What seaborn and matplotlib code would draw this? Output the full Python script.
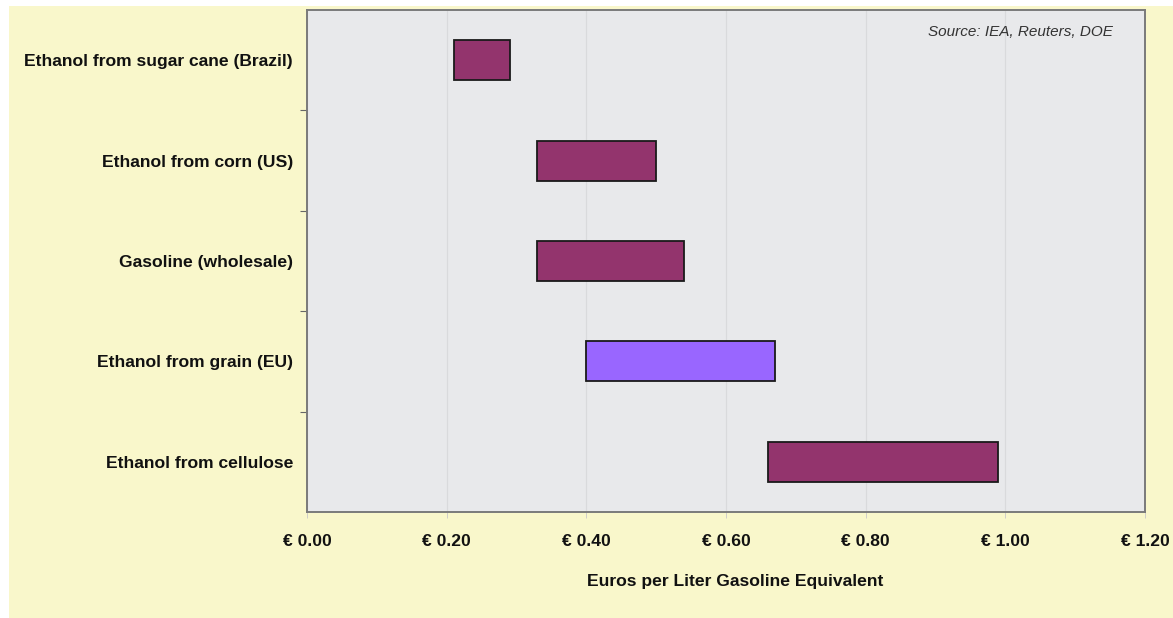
import matplotlib
matplotlib.use("Agg")
import matplotlib.pyplot as plt
import matplotlib.patches as mpatches
from matplotlib.ticker import FixedLocator, FuncFormatter
import seaborn as sns
import pandas as pd

# Production cost ranges, euros per liter gasoline equivalent
categories = [
    "Ethanol from sugar cane (Brazil)",
    "Ethanol from corn (US)",
    "Gasoline (wholesale)",
    "Ethanol from grain (EU)",
    "Ethanol from cellulose",
]
cost_low = [0.21, 0.33, 0.33, 0.40, 0.66]
cost_high = [0.29, 0.50, 0.54, 0.67, 0.99]
x_ticks = [0.0, 0.2, 0.4, 0.6, 0.8, 1.0, 1.2]

bar_colors = ["#93346D", "#93346D", "#93346D", "#9966FF", "#93346D"]
panel_bg = "#F9F7CB"
axes_bg = "#E8E9EB"

sns.set_theme(style="white")
plt.rcParams["font.family"] = ["Liberation Sans", "DejaVu Sans"]

df = pd.DataFrame({
    "category": categories,
    "low": cost_low,
    "span": [h - l for l, h in zip(cost_low, cost_high)],
})

fig = plt.figure(figsize=(11.73, 6.18), dpi=100, facecolor="white")
fig.patches.append(mpatches.Rectangle((9 / 1173, 0), 1 - 9 / 1173, 1 - 5 / 618 - 1 / 618,
                                      transform=fig.transFigure, facecolor=panel_bg,
                                      edgecolor="none", zorder=-10))
ax = fig.add_axes([307 / 1173, 1 - 512 / 618, (1145 - 307) / 1173, (512 - 10) / 618])
ax.set_facecolor(axes_bg)

sns.barplot(data=df, x="span", y="category", hue="category", palette=bar_colors,
            saturation=1, legend=False, width=0.4, orient="h", ax=ax,
            edgecolor="#1a1a1a", linewidth=1.3, zorder=3)
# shift each bar so it starts at the low end of its range
for patch, lo in zip(ax.patches, df["low"]):
    patch.set_x(lo)

ax.set_xlim(0, 1.2)
ax.set_ylim(len(categories) - 0.5, -0.5)
ax.xaxis.set_major_locator(FixedLocator(x_ticks))
ax.xaxis.set_major_formatter(FuncFormatter(lambda v, _: f"€ {v:.2f}"))
ax.grid(axis="x", color="#D9DADC", linewidth=0.9, zorder=0)
ax.set_axisbelow(True)

ax.set_yticks(range(len(categories)))
ax.set_yticklabels(categories)
ax.yaxis.set_minor_locator(FixedLocator([i + 0.5 for i in range(len(categories) - 1)]))
ax.tick_params(axis="y", which="major", length=0, pad=10, labelsize=12.6, labelcolor="#111111")
ax.tick_params(axis="y", which="minor", left=True, length=5, width=0.8, color="#666666")
ax.tick_params(axis="x", which="major", bottom=True, length=4, width=0.6, color="#C8C8C8",
               pad=12, labelsize=12.6, labelcolor="#111111")
for lbl in ax.get_xticklabels() + ax.get_yticklabels():
    lbl.set_fontweight("bold")

ax.set_xlabel("Euros per Liter Gasoline Equivalent", fontsize=12.6, fontweight="bold",
              color="#111111")
ax.set_ylabel("")
ax.xaxis.set_label_coords(0.511, -0.124)

for spine in ax.spines.values():
    spine.set_visible(True)
    spine.set_color("#7A7A7A")
    spine.set_linewidth(1.4)

ax.text(0.962, 0.956, "Source: IEA, Reuters, DOE", transform=ax.transAxes,
        ha="right", va="center", fontsize=11, style="italic", color="#333333")

fig.savefig("out.png", dpi=100, facecolor=fig.get_facecolor())
